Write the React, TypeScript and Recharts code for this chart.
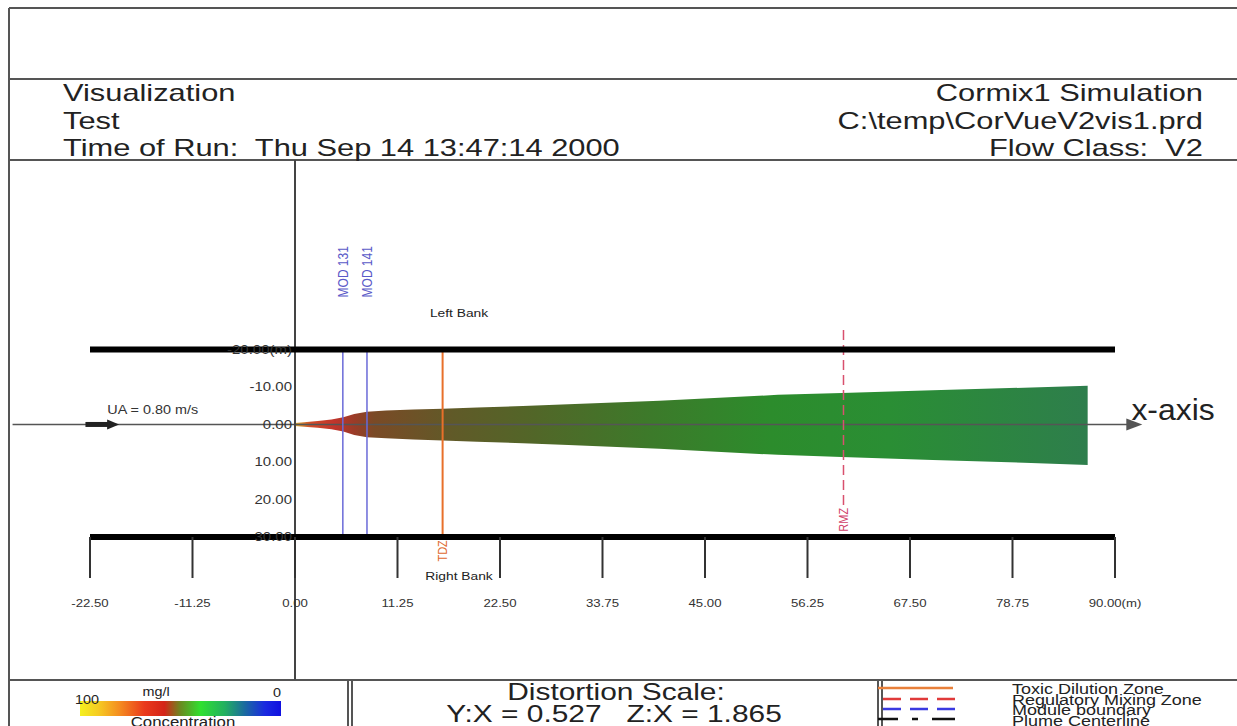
import React from 'react'
import { ComposedChart, Area, XAxis, YAxis, ReferenceLine, ReferenceDot } from 'recharts'

// plume outline: x downstream (m), y across (m, negative = toward left bank)
const PLUME_X = [0, 1, 2.5, 4, 5.3, 6.5, 7.9, 10, 13, 16.2, 20, 25, 30, 40, 53, 60, 70, 80, 87]
const PLUME_TOP = [-0.4, -0.6, -0.9, -1.3, -1.9, -2.8, -3.4, -3.7, -4.0, -4.2, -4.5, -4.9, -5.4, -6.3, -7.9, -8.4, -9.1, -9.8, -10.3]
const PLUME_BOTTOM = [0.4, 0.6, 0.9, 1.3, 1.9, 2.8, 3.4, 3.7, 4.0, 4.3, 4.6, 5.0, 5.5, 6.5, 8.1, 8.7, 9.5, 10.2, 10.8]

const X_TICKS = [-22.5, -11.25, 0, 11.25, 22.5, 33.75, 45, 56.25, 67.5, 78.75, 90]
const Y_TICKS = [-20, -10, 0, 10, 20, 30]
const Y_TICK_LABELS = ['-20.00(m)', '-10.00', '0.00', '10.00', '20.00', '30.00']
const LEFT_BANK = -20
const RIGHT_BANK = 30
const Y_TOP = -70.5
const Y_AXIS_END = 68
const MOD_X = [5.25, 7.9]
const MOD_LABELS = ['MOD 131', 'MOD 141']
const TDZ_X = 16.2
const RMZ_X = 60.2
const RMZ_RANGE = [-25.2, 21.5]
const FLOW_ARROW = [-31, 93]
const UA_ARROW = [-23, -19.3]

const HEADER_LEFT = ['Visualization', 'Test', 'Time of Run:  Thu Sep 14 13:47:14 2000']
const HEADER_RIGHT = ['Cormix1 Simulation', 'C:\\temp\\CorVueV2vis1.prd', 'Flow Class:  V2']
const LEGEND_ITEMS = ['Toxic Dilution Zone', 'Regulatory Mixing Zone', 'Module boundary', 'Plume Centerline']

const FONT = '"Liberation Sans", Arial, Helvetica, sans-serif'
const SX = 1.2

function Txt({ x, y, size, anchor = 'start', fill = '#222', sx = SX, rotate = 0, central = false, children }: any) {
  const tf = `translate(${x},${y}) scale(${sx},1)` + (rotate ? ` rotate(${rotate})` : '')
  return (
    <text transform={tf} textAnchor={anchor} fontSize={size} fill={fill} fontFamily={FONT}
      dominantBaseline={central ? 'central' : undefined} style={{ whiteSpace: 'pre' }}>
      {children}
    </text>
  )
}

function XTick({ x, y, payload }: any) {
  const v = payload.value
  const t = v === 90 ? '90.00(m)' : v.toFixed(2)
  return <Txt x={x} y={y + 25} size={11} anchor="middle" central fill="#333">{t}</Txt>
}

function arrowShape(width: number, color: string, head: number, half: number) {
  return (p: any) => {
    const { x1, y1, x2, y2 } = p
    return (
      <g>
        <line x1={x1} y1={y1} x2={x2 - head + 2} y2={y2} stroke={color} strokeWidth={width} />
        <polygon points={`${x2},${y2} ${x2 - head},${y2 - half} ${x2 - head},${y2 + half}`} fill={color} />
      </g>
    )
  }
}

function Frame() {
  const c = '#555'
  return (
    <svg width={1237} height={726} style={{ position: 'absolute', left: 0, top: 0 }}>
      <defs>
        <linearGradient id="cbar" x1="0" x2="1" y1="0" y2="0">
          <stop offset="0" stopColor="#f4f020" />
          <stop offset="0.09" stopColor="#f6cc22" />
          <stop offset="0.2" stopColor="#f48a20" />
          <stop offset="0.32" stopColor="#ea3a1c" />
          <stop offset="0.42" stopColor="#d42418" />
          <stop offset="0.5" stopColor="#6a8a20" />
          <stop offset="0.6" stopColor="#30e030" />
          <stop offset="0.72" stopColor="#22b060" />
          <stop offset="0.82" stopColor="#1a6aa0" />
          <stop offset="0.92" stopColor="#1a2ae0" />
          <stop offset="1" stopColor="#1010e0" />
        </linearGradient>
      </defs>
      <g stroke={c} strokeWidth={2}>
        <line x1={9} y1={8} x2={1237} y2={8} />
        <line x1={9} y1={8} x2={9} y2={726} />
        <line x1={9} y1={79} x2={1237} y2={79} />
        <line x1={9} y1={160} x2={1237} y2={160} />
        <line x1={9} y1={680} x2={1237} y2={680} />
        <line x1={348} y1={680} x2={348} y2={726} />
        <line x1={352} y1={680} x2={352} y2={726} />
        <line x1={878} y1={680} x2={878} y2={726} />
        <line x1={882} y1={680} x2={882} y2={726} />
      </g>
      {HEADER_LEFT.map((t, i) => (
        <Txt key={t} x={63} y={101 + i * 27.5} size={23} sx={1.34}>{t}</Txt>
      ))}
      {HEADER_RIGHT.map((t, i) => (
        <Txt key={t} x={1203} y={101 + i * 27.5} size={23} sx={1.34} anchor="end">{t}</Txt>
      ))}

      <rect x={80} y={701} width={201} height={15} fill="url(#cbar)" />
      <Txt x={75} y={704} size={12}>100</Txt>
      <Txt x={156} y={696} size={12} anchor="middle">mg/l</Txt>
      <Txt x={277} y={697} size={12} anchor="middle">0</Txt>
      <Txt x={183} y={727} size={14} anchor="middle">Concentration</Txt>

      <Txt x={616} y={700} size={23} sx={1.3} anchor="middle">Distortion Scale:</Txt>
      <Txt x={614} y={722} size={23} sx={1.3} anchor="middle">{'Y:X = 0.527   Z:X = 1.865'}</Txt>

      <line x1={878} y1={688} x2={953} y2={688} stroke="#e8803a" strokeWidth={2.5} />
      <line x1={883} y1={699} x2={955} y2={699} stroke="#e03a3a" strokeWidth={2.5} strokeDasharray="18 9" />
      <line x1={883} y1={709} x2={955} y2={709} stroke="#3a3ae0" strokeWidth={2.5} strokeDasharray="18 9" />
      <line x1={878} y1={719} x2={955} y2={719} stroke="#111" strokeWidth={2.5} strokeDasharray="20 14 6 14 30" />
      {LEGEND_ITEMS.map((t, i) => (
        <Txt key={t} x={1012} y={694 + i * 10.5} size={15}>{t}</Txt>
      ))}
    </svg>
  )
}

export default function App() {
  const plumeData = PLUME_X.map((x, i) => ({ x, band: [PLUME_TOP[i], PLUME_BOTTOM[i]] }))

  return (
    <div style={{ position: 'absolute', left: 0, top: 0, width: 1237, height: 726, overflow: 'hidden', background: '#fff', fontFamily: FONT }}>
      <Frame />
      <div style={{ position: 'absolute', left: 9, top: 160 }}>
        <ComposedChart width={1228} height={528} data={plumeData} margin={{ top: 0, right: 122, bottom: 91, left: 81 }}>
          <defs>
            <linearGradient id="plumeFill" x1="0" x2="1" y1="0" y2="0">
              <stop offset="0" stopColor="#d8b030" />
              <stop offset="0.02" stopColor="#d04a28" />
              <stop offset="0.05" stopColor="#c0342c" />
              <stop offset="0.075" stopColor="#9a3c28" />
              <stop offset="0.1" stopColor="#7a4a26" />
              <stop offset="0.2" stopColor="#605a28" />
              <stop offset="0.3" stopColor="#526628" />
              <stop offset="0.45" stopColor="#3c7a2a" />
              <stop offset="0.6" stopColor="#2c8c2c" />
              <stop offset="0.75" stopColor="#2a8e34" />
              <stop offset="1" stopColor="#2e7e4c" />
            </linearGradient>
          </defs>
          <XAxis dataKey="x" type="number" domain={[-22.5, 90]} ticks={X_TICKS} interval={0} allowDataOverflow
            height={60} axisLine={{ stroke: '#000', strokeWidth: 6 }} tickLine={{ stroke: '#333', strokeWidth: 2 }}
            tickSize={41} tickMargin={0} tick={<XTick />} />
          <YAxis hide type="number" domain={[Y_TOP, RIGHT_BANK]} reversed allowDataOverflow width={0} />

          {Y_TICKS.map((v, i) => (
            <ReferenceDot key={v} x={0} y={v} r={0} ifOverflow="visible"
              shape={(p: any) => <Txt x={p.cx - 3} y={p.cy} size={12.5} anchor="end" central fill="#333">{Y_TICK_LABELS[i]}</Txt>} />
          ))}

          <Area dataKey="band" type="linear" stroke="none" fill="url(#plumeFill)" fillOpacity={1} isAnimationActive={false} />

          <ReferenceLine segment={[{ x: FLOW_ARROW[0], y: 0 }, { x: FLOW_ARROW[1], y: 0 }]} ifOverflow="visible"
            shape={arrowShape(1.5, '#555', 16, 6)} />
          <ReferenceLine segment={[{ x: UA_ARROW[0], y: 0 }, { x: UA_ARROW[1], y: 0 }]} ifOverflow="visible"
            shape={arrowShape(5, '#222', 12, 5)} />
          <ReferenceDot x={-20.6} y={-3.9} r={0} ifOverflow="visible"
            shape={(p: any) => <Txt x={p.cx} y={p.cy} size={12} central fill="#333">UA = 0.80 m/s</Txt>} />
          <ReferenceDot x={91.8} y={-3.9} r={0} ifOverflow="visible"
            shape={(p: any) => <Txt x={p.cx} y={p.cy} size={29} sx={1.1} central fill="#222">x-axis</Txt>} />

          <ReferenceLine segment={[{ x: 0, y: Y_TOP }, { x: 0, y: Y_AXIS_END }]} ifOverflow="visible" stroke="#444" strokeWidth={2} />

          {MOD_X.map((x) => (
            <ReferenceLine key={x} segment={[{ x, y: LEFT_BANK }, { x, y: RIGHT_BANK }]} stroke="#6a6ad8" strokeWidth={1.5} ifOverflow="visible" />
          ))}
          {MOD_X.map((x, i) => (
            <ReferenceDot key={'l' + x} x={x} y={-40.7} r={0} ifOverflow="visible"
              shape={(p: any) => <Txt x={p.cx} y={p.cy} size={12} anchor="middle" central rotate={-90} fill="#5a5ac8">{MOD_LABELS[i]}</Txt>} />
          ))}

          <ReferenceLine segment={[{ x: TDZ_X, y: LEFT_BANK }, { x: TDZ_X, y: RIGHT_BANK }]} stroke="#e8702a" strokeWidth={2} ifOverflow="visible" />
          <ReferenceDot x={TDZ_X} y={33.7} r={0} ifOverflow="visible"
            shape={(p: any) => <Txt x={p.cx} y={p.cy} size={11} anchor="middle" central rotate={-90} fill="#e06a30">TDZ</Txt>} />

          <ReferenceLine segment={[{ x: RMZ_X, y: RMZ_RANGE[0] }, { x: RMZ_X, y: RMZ_RANGE[1] }]} stroke="#d8506e" strokeWidth={1.5} strokeDasharray="10 5" ifOverflow="visible" />
          <ReferenceDot x={RMZ_X} y={25.4} r={0} ifOverflow="visible"
            shape={(p: any) => <Txt x={p.cx} y={p.cy} size={11} anchor="middle" central rotate={-90} fill="#d0406a">RMZ</Txt>} />

          <ReferenceLine y={LEFT_BANK} stroke="#000" strokeWidth={6} />
          <ReferenceDot x={18} y={-29.7} r={0} ifOverflow="visible"
            shape={(p: any) => <Txt x={p.cx} y={p.cy} size={11.5} anchor="middle" central fill="#222">Left Bank</Txt>} />
          <ReferenceDot x={18} y={40.5} r={0} ifOverflow="visible"
            shape={(p: any) => <Txt x={p.cx} y={p.cy} size={11.5} anchor="middle" central fill="#222">Right Bank</Txt>} />
        </ComposedChart>
      </div>
    </div>
  )
}
